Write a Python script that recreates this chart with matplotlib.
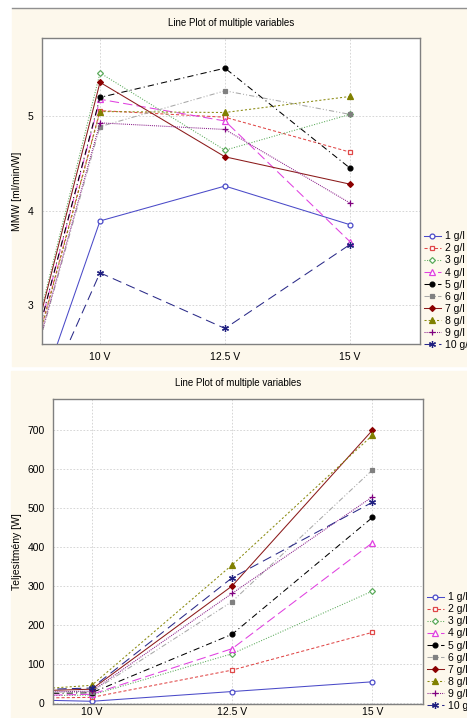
import matplotlib.pyplot as plt
from matplotlib.patches import Rectangle
from matplotlib.lines import Line2D

plt.rcParams["font.family"] = ["Liberation Sans", "DejaVu Sans"]

# feszültség (az első pont a tengelyen kívül esik)
voltages = [7.5, 10, 12.5, 15]
tick_pos = [10, 12.5, 15]
tick_labels = ["10 V", "12.5 V", "15 V"]
series_names = ["1 g/l", "2 g/l", "3 g/l", "4 g/l", "5 g/l",
                "6 g/l", "7 g/l", "8 g/l", "9 g/l", "10 g/l"]

# MMW [ml/min/W]
mmw_1 = [0.07, 3.89, 4.26, 3.85]
mmw_2 = [0.15, 5.06, 4.99, 4.62]
mmw_3 = [0.12, 5.46, 4.64, 5.02]
mmw_4 = [0.15, 5.18, 4.95, 3.67]
mmw_5 = [0.15, 5.20, 5.51, 4.45]
mmw_6 = [0.17, 4.89, 5.27, 5.02]
mmw_7 = [0.15, 5.36, 4.57, 4.28]
mmw_8 = [0.13, 5.05, 5.04, 5.21]
mmw_9 = [0.16, 4.93, 4.86, 4.08]
mmw_10 = [0.36, 3.34, 2.75, 3.64]

# Teljesítmény [W]
power_1 = [12, 4, 29, 54]
power_2 = [10, 14, 84, 181]
power_3 = [15, 20, 126, 287]
power_4 = [14, 22, 139, 411]
power_5 = [20, 26, 176, 476]
power_6 = [22, 28, 260, 598]
power_7 = [25, 35, 300, 700]
power_8 = [20, 45, 354, 687]
power_9 = [25, 30, 281, 529]
power_10 = [28, 38, 321, 515]

mmw = [mmw_1, mmw_2, mmw_3, mmw_4, mmw_5, mmw_6, mmw_7, mmw_8, mmw_9, mmw_10]
power = [power_1, power_2, power_3, power_4, power_5,
         power_6, power_7, power_8, power_9, power_10]

styles = [
    dict(color="#4a4ac8", ls="-", marker="o", mfc="white", mec="#4a4ac8"),
    dict(color="#e04848", ls=(0, (3, 2)), marker="s", mfc="white", mec="#e04848"),
    dict(color="#5aaa5a", ls=(0, (1, 1.5)), marker="D", mfc="white", mec="#5aaa5a"),
    dict(color="#e040e0", ls=(0, (9, 4)), marker="^", mfc="white", mec="#e040e0"),
    dict(color="#000000", ls=(0, (6, 3, 1, 3)), marker="o", mfc="black", mec="black"),
    dict(color="#a8a8a8", ls=(0, (5, 2, 1, 2, 1, 2)), marker="s", mfc="#808080", mec="#808080"),
    dict(color="#8b1a1a", ls="-", marker="D", mfc="#8b0000", mec="#8b0000"),
    dict(color="#8a8a10", ls=(0, (2, 2)), marker="^", mfc="#808000", mec="#808000"),
    dict(color="#8a208a", ls=(0, (1, 1)), marker="+", mfc="#800080", mec="#800080"),
    dict(color="#2a2a88", ls=(0, (9, 5)), marker=(6, 2, 0), mfc="#202080", mec="#202080"),
]
marker_sizes = [3.5, 3.5, 3, 3.8, 3.5, 3.5, 3, 4, 5, 5]

bg = "#fdf8ec"
fig = plt.figure(figsize=(4.67, 7.18), dpi=100)

# háttér panelek
fig.patches.append(Rectangle((12 / 467, 1 - 366 / 718), 455 / 467, 357 / 718,
                             transform=fig.transFigure, color=bg, zorder=-10))
fig.patches.append(Rectangle((11 / 467, 0), 456 / 467, 347 / 718,
                             transform=fig.transFigure, color=bg, zorder=-10))
fig.lines.append(Line2D([12 / 467, 1], [1 - 8 / 718] * 2, transform=fig.transFigure,
                        color="#909090", lw=1.0, zorder=-9))


def draw_panel(ax, data, ylabel, ylim, yticks, xlim, leg_anchor, xpad):
    for vals, st, ms, name in zip(data, styles, marker_sizes, series_names):
        ax.plot(voltages, vals, color=st["color"], ls=st["ls"], lw=0.75,
                marker=st["marker"], ms=ms, mfc=st["mfc"], mec=st["mec"],
                mew=0.9, label=name)
    ax.set_xlim(*xlim)
    ax.set_ylim(*ylim)
    ax.set_xticks(tick_pos)
    ax.set_xticklabels(tick_labels)
    ax.set_yticks(yticks)
    ax.tick_params(labelsize=7.5, length=0)
    ax.tick_params(axis="y", pad=6)
    ax.tick_params(axis="x", pad=xpad)
    ax.grid(True, color="#d0d0d0", ls=(0, (2, 2)), lw=0.6)
    for s in ax.spines.values():
        s.set_color("#808080")
        s.set_linewidth(1.0)
    ax.set_ylabel(ylabel, fontsize=7.5)
    ax.set_title("Line Plot of multiple variables", fontsize=7, pad=9)
    ax.legend(loc="lower left", bbox_to_anchor=leg_anchor, bbox_transform=fig.transFigure,
              frameon=False, fontsize=7.5, handlelength=1.6, handletextpad=0.4,
              labelspacing=0.2, borderaxespad=0, borderpad=0)


ax1 = fig.add_axes([42 / 467, 1 - 344 / 718, 378 / 467, 306 / 718])
draw_panel(ax1, mmw, "MMW [ml/min/W]", (2.585, 5.83), [3, 4, 5],
           (8.84, 16.4), (424 / 467, 1 - 350 / 718), 6)

ax2 = fig.add_axes([53 / 467, 1 - 704 / 718, 370 / 467, 305 / 718])
draw_panel(ax2, power, "Teljesítmény [W]", (-3, 780), [0, 100, 200, 300, 400, 500, 600, 700],
           (9.31, 15.9), (427 / 467, 1 - 711 / 718), 2)

fig.savefig("out.png", dpi=100)
